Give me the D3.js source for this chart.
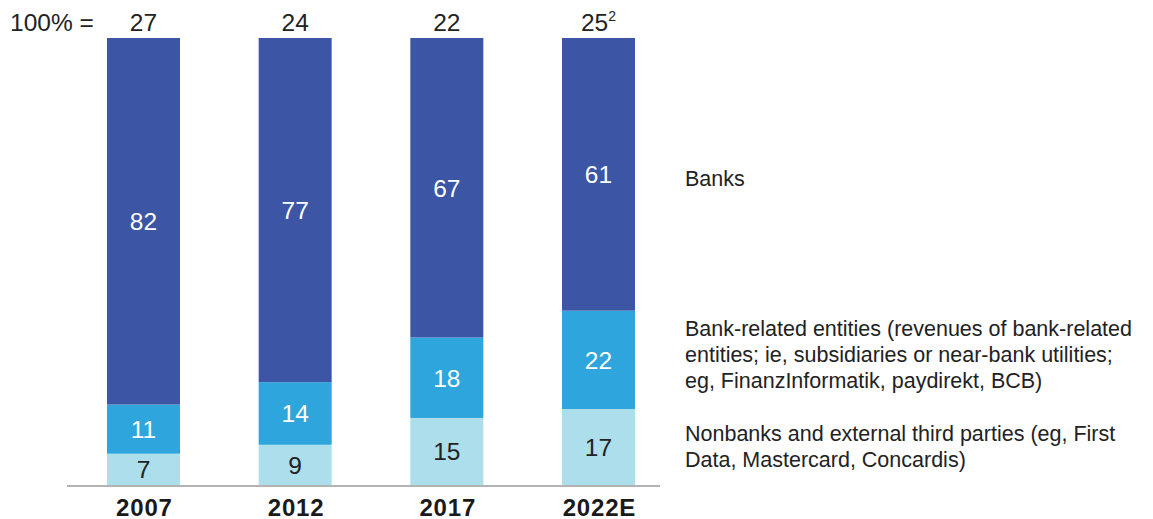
<!DOCTYPE html>
<html>
<head>
<meta charset="utf-8">
<script src="https://cdn.jsdelivr.net/npm/d3@7"></script>
<style>
  html, body { margin: 0; padding: 0; background: #fff; }
  svg { display: block; font-family: "Liberation Sans", Arial, sans-serif; }
</style>
</head>
<body>
<svg id="chart" width="1153" height="519"></svg>
<script>
// Revenue split by provider type, % of total (100% = total revenue pool)
const years = ["2007", "2012", "2017", "2022E"];
const totals = ["27", "24", "22", "25"];
const totalNotes = ["", "", "", "2"];
const nonbanks = [7, 9, 15, 17];
const bankRelated = [11, 14, 18, 22];
const banks = [82, 77, 67, 61];

const seriesKeys = ["nonbanks", "bankRelated", "banks"];
const seriesColors = ["#acdeeb", "#2ea5dc", "#3c55a5"];
const seriesTextColors = ["#222", "#fff", "#fff"];
const legendLines = [
  ["Nonbanks and external third parties (eg, First", "Data, Mastercard, Concardis)"],
  ["Bank-related entities (revenues of bank-related", "entities; ie, subsidiaries or near-bank utilities;", "eg, FinanzInformatik, paydirekt, BCB)"],
  ["Banks"]
];

const rows = years.map((y, i) => ({
  year: y, nonbanks: nonbanks[i], bankRelated: bankRelated[i], banks: banks[i]
}));

const svg = d3.select("#chart");
const barWidth = 73;
const numSize = 24.5;

const x = d3.scalePoint().domain(years).range([143.5, 598.5]);
const y = d3.scaleLinear().domain([0, 100]).range([485, 38]);

const stacked = d3.stack().keys(seriesKeys)(rows);

// Stacked segments
const layers = svg.append("g").selectAll("g")
  .data(stacked)
  .join("g")
  .attr("fill", (d, i) => seriesColors[i]);

layers.selectAll("rect")
  .data(d => d)
  .join("rect")
  .attr("x", d => x(d.data.year) - barWidth / 2)
  .attr("y", d => y(d[1]))
  .attr("width", barWidth)
  .attr("height", d => y(d[0]) - y(d[1]));

// Segment value labels
stacked.forEach((layer, li) => {
  svg.append("g").selectAll("text")
    .data(layer)
    .join("text")
    .attr("x", d => x(d.data.year))
    .attr("y", d => (y(d[0]) + y(d[1])) / 2)
    .attr("dy", "0.36em")
    .attr("text-anchor", "middle")
    .attr("font-size", numSize)
    .attr("fill", seriesTextColors[li])
    .text(d => d[1] - d[0]);
});

// Baseline
svg.append("line")
  .attr("x1", 67).attr("x2", 660)
  .attr("y1", 486).attr("y2", 486)
  .attr("stroke", "#9a9a9a").attr("stroke-width", 1.5);

// Category axis labels
const xAxis = d3.axisBottom(x).tickSize(0).tickPadding(0);
const axisG = svg.append("g").attr("transform", "translate(0,500)").call(xAxis);
axisG.select(".domain").remove();
axisG.selectAll("text")
  .attr("font-family", "'Liberation Sans', Arial, sans-serif")
  .attr("font-size", 24)
  .attr("font-weight", "bold")
  .attr("letter-spacing", 0.8)
  .attr("fill", "#1a1a1a")
  .attr("dy", null)
  .attr("dx", 0.4)
  .attr("y", 15.5);

// Totals row
svg.append("text")
  .attr("x", 10).attr("y", 31)
  .attr("font-size", numSize).attr("fill", "#222")
  .text("100% =");

const totalText = svg.append("g").selectAll("text")
  .data(years)
  .join("text")
  .attr("x", d => x(d))
  .attr("y", 31)
  .attr("text-anchor", "middle")
  .attr("font-size", numSize)
  .attr("fill", "#222");
totalText.append("tspan").text((d, i) => totals[i]);
totalText.append("tspan")
  .attr("font-size", 14)
  .attr("dy", -10)
  .text((d, i) => totalNotes[i]);

// Legend, aligned with the last bar's segments
const last = years.length - 1;
const legendOffsets = [-1, -5, 4.5];
const lineH = 26;
stacked.forEach((layer, li) => {
  const seg = layer[last];
  const cy = (y(seg[0]) + y(seg[1])) / 2 + legendOffsets[li];
  const lines = legendLines[li];
  const t = svg.append("text")
    .attr("x", 685)
    .attr("font-size", 21.5)
    .attr("fill", "#222");
  lines.forEach((ln, k) => {
    t.append("tspan")
      .attr("x", 685)
      .attr("y", cy + (k - (lines.length - 1) / 2) * lineH)
      .attr("dy", "0.35em")
      .text(ln);
  });
});
</script>
</body>
</html>
